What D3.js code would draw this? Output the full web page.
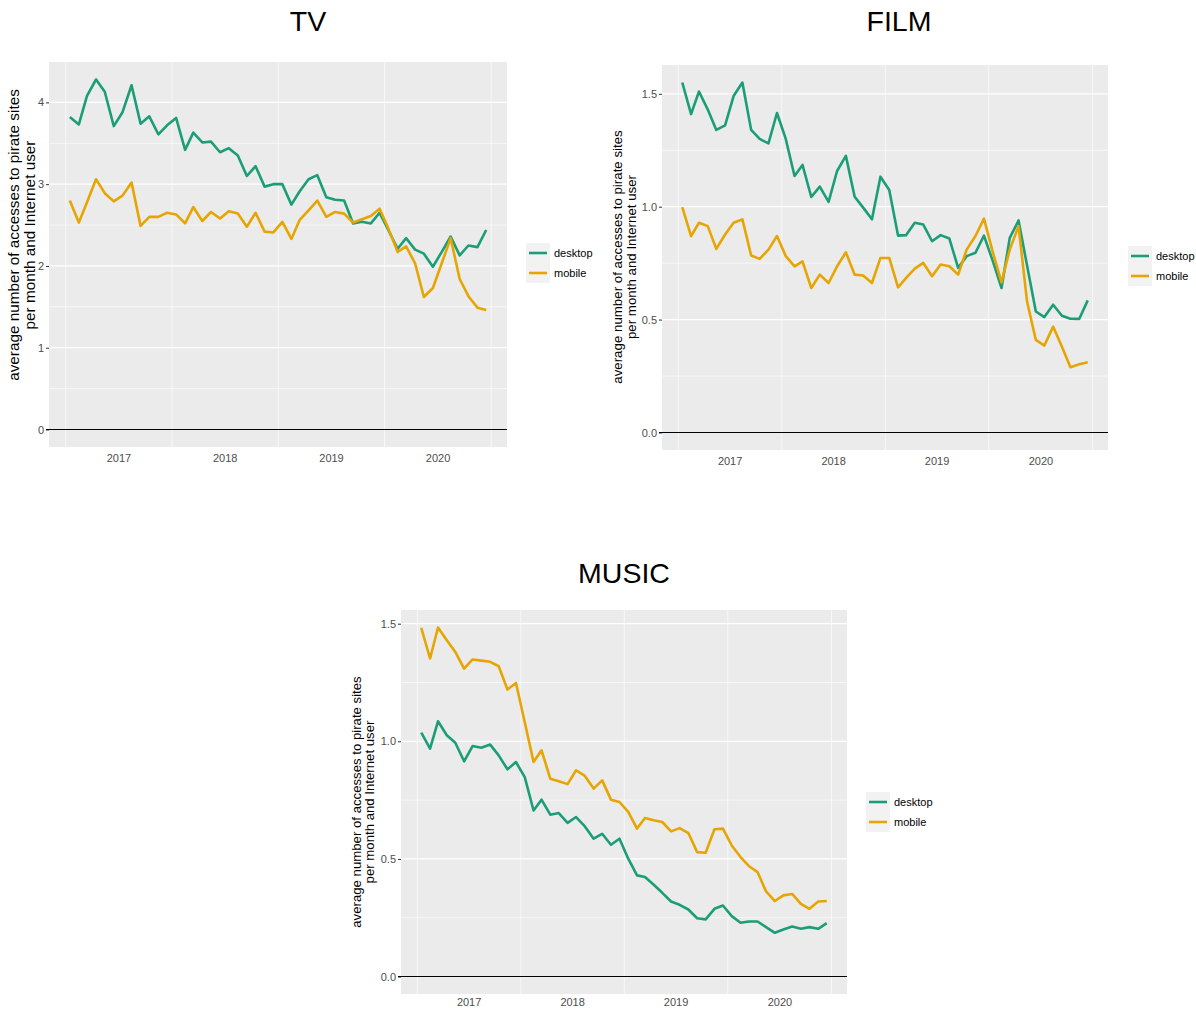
<!DOCTYPE html>
<html>
<head>
<meta charset="utf-8">
<script src="https://cdn.jsdelivr.net/npm/d3@7"></script>
<style>
  body { margin: 0; background: #fff; }
  svg { display: block; font-family: "Liberation Sans", Arial, sans-serif; }
</style>
</head>
<body>
<svg id="chart" width="1196" height="1011"></svg>
<script>
// Monthly observations, January 2017 to December 2020
const months = d3.range(48).map(i => new Date(2017, i, 15));
const yearLabels = ["2017", "2018", "2019", "2020"];
const seriesNames = ["desktop", "mobile"];

const tvDesktop = [3.82, 3.73, 4.08, 4.28, 4.13, 3.71, 3.88, 4.21, 3.74, 3.83, 3.61, 3.72,
  3.81, 3.42, 3.63, 3.51, 3.52, 3.39, 3.44, 3.35, 3.10, 3.22, 2.97, 3.00,
  3.00, 2.75, 2.91, 3.06, 3.11, 2.84, 2.81, 2.80, 2.52, 2.54, 2.52, 2.65,
  2.43, 2.21, 2.34, 2.20, 2.15, 1.99, 2.17, 2.36, 2.13, 2.25, 2.23, 2.44];
const tvMobile = [2.80, 2.53, 2.78, 3.06, 2.89, 2.79, 2.86, 3.02, 2.49, 2.60, 2.60, 2.65,
  2.63, 2.52, 2.72, 2.55, 2.66, 2.58, 2.67, 2.64, 2.48, 2.65, 2.42, 2.41,
  2.54, 2.33, 2.56, 2.68, 2.80, 2.60, 2.66, 2.64, 2.53, 2.57, 2.61, 2.70,
  2.45, 2.17, 2.24, 2.03, 1.62, 1.73, 2.03, 2.34, 1.84, 1.63, 1.49, 1.46];

const filmDesktop = [1.55, 1.41, 1.51, 1.43, 1.34, 1.36, 1.49, 1.55, 1.34, 1.30, 1.28, 1.415,
  1.30, 1.136, 1.185, 1.043, 1.089, 1.021, 1.158, 1.225, 1.044, 0.996, 0.944, 1.133,
  1.074, 0.872, 0.874, 0.929, 0.921, 0.847, 0.874, 0.859, 0.729, 0.781, 0.796, 0.872,
  0.76, 0.640, 0.862, 0.939, 0.74, 0.536, 0.511, 0.566, 0.517, 0.504, 0.503, 0.585];
const filmMobile = [0.998, 0.870, 0.929, 0.914, 0.813, 0.877, 0.929, 0.944, 0.784, 0.769, 0.810, 0.870,
  0.781, 0.736, 0.758, 0.640, 0.699, 0.662, 0.736, 0.798, 0.699, 0.695, 0.662, 0.773,
  0.773, 0.643, 0.684, 0.726, 0.751, 0.692, 0.744, 0.736, 0.699, 0.810, 0.870, 0.947,
  0.80, 0.665, 0.810, 0.914, 0.58, 0.41, 0.385, 0.469, 0.38, 0.289, 0.302, 0.311];

const musicDesktop = [1.037, 0.969, 1.085, 1.026, 0.994, 0.915, 0.980, 0.973, 0.986, 0.940, 0.881, 0.912,
  0.848, 0.706, 0.752, 0.688, 0.695, 0.653, 0.678, 0.638, 0.586, 0.607, 0.560, 0.586,
  0.501, 0.430, 0.423, 0.390, 0.356, 0.319, 0.305, 0.285, 0.248, 0.243, 0.288, 0.302,
  0.257, 0.229, 0.234, 0.234, 0.210, 0.186, 0.200, 0.213, 0.203, 0.210, 0.203, 0.227];
const musicMobile = [1.482, 1.352, 1.484, 1.430, 1.380, 1.309, 1.348, 1.343, 1.338, 1.319, 1.220, 1.248,
  1.081, 0.912, 0.962, 0.841, 0.830, 0.818, 0.877, 0.853, 0.799, 0.834, 0.752, 0.742,
  0.700, 0.629, 0.674, 0.664, 0.657, 0.617, 0.631, 0.610, 0.529, 0.526, 0.626, 0.629,
  0.557, 0.508, 0.470, 0.444, 0.362, 0.321, 0.345, 0.351, 0.309, 0.288, 0.319, 0.321];

const tvTicks = [0, 1, 2, 3, 4];
const tvMinor = [0.5, 1.5, 2.5, 3.5];
const shareTicks = [0, 0.5, 1.0, 1.5];
const shareMinor = [0.25, 0.75, 1.25];

const yTitle = ["average number of accesses to pirate sites", "per month and Internet user"];
const colors = { desktop: "#1b9e77", mobile: "#e6a502" };

const svg = d3.select("#chart");

// Panel layout
const panels = [
  { title: "TV", desktop: tvDesktop, mobile: tvMobile, ticks: tvTicks, minor: tvMinor, fmt: d3.format("d"),
    left: 49, right: 507, top: 62, bottom: 447, titleX: 308, titleY: 31, xPad: 7,
    yTitleX: 13.5, yTitleY: 235, yTitleSize: 15.3, legendX: 526, legendY: 243 },
  { title: "FILM", desktop: filmDesktop, mobile: filmMobile, ticks: shareTicks, minor: shareMinor, fmt: d3.format(".1f"),
    left: 662, right: 1108, top: 65, bottom: 450, titleX: 899, titleY: 31, xPad: 7,
    yTitleX: 617, yTitleY: 257, yTitleSize: 13.3, legendX: 1128, legendY: 246 },
  { title: "MUSIC", desktop: musicDesktop, mobile: musicMobile, ticks: shareTicks, minor: shareMinor, fmt: d3.format(".1f"),
    left: 401, right: 847, top: 610, bottom: 994, titleX: 624, titleY: 583, xPad: 4,
    yTitleX: 356, yTitleY: 802, yTitleSize: 13.2, legendX: 866, legendY: 792 }
];

// ggplot-style 5% expansion of a continuous range
function expand([lo, hi]) {
  const pad = (hi - lo) * 0.05;
  return [lo - pad, hi + pad];
}

panels.forEach(p => {
  const g = svg.append("g");
  const t0 = months[0].getTime(), t1 = months[months.length - 1].getTime();
  const [e0, e1] = expand([t0, t1]);
  const x = d3.scaleTime().domain([new Date(e0), new Date(e1)]).range([p.left, p.right]);
  const yMax = d3.max([...p.desktop, ...p.mobile]);
  const y = d3.scaleLinear().domain(expand([0, yMax])).range([p.bottom, p.top]);

  // panel background
  g.append("rect").attr("x", p.left).attr("y", p.top)
    .attr("width", p.right - p.left).attr("height", p.bottom - p.top).attr("fill", "#ebebeb");

  // horizontal grid
  g.selectAll(".hmin").data(p.minor).join("line")
    .attr("x1", p.left).attr("x2", p.right).attr("y1", d => y(d)).attr("y2", d => y(d))
    .attr("stroke", "#fff").attr("stroke-width", 0.6);
  g.selectAll(".hmaj").data(p.ticks).join("line")
    .attr("x1", p.left).attr("x2", p.right).attr("y1", d => y(d)).attr("y2", d => y(d))
    .attr("stroke", "#fff").attr("stroke-width", 1.2);

  // vertical grid at year boundaries
  const yearBounds = d3.range(2017, 2022).map(yr => new Date(yr, 0, 1));
  g.selectAll(".vgrid").data(yearBounds).join("line")
    .attr("x1", d => x(d)).attr("x2", d => x(d)).attr("y1", p.top).attr("y2", p.bottom)
    .attr("stroke", "#fff").attr("stroke-width", 0.8).attr("opacity", 0.8);

  // y axis
  const yAxis = d3.axisLeft(y).tickValues(p.ticks).tickFormat(p.fmt).tickSize(3).tickPadding(2);
  const ya = g.append("g").attr("transform", `translate(${p.left},0)`).call(yAxis);
  ya.select(".domain").remove();
  ya.selectAll("line").attr("stroke", "#333").attr("stroke-width", 1);
  ya.selectAll("text").attr("fill", "#4d4d4d").style("font-size", "11px")
    .style("font-family", "'Liberation Sans', Arial, sans-serif");

  // x axis labels at mid-year
  const xAxis = d3.axisBottom(x).tickValues(yearLabels.map(s => new Date(+s, 6, 1)))
    .tickFormat(d3.timeFormat("%Y")).tickSize(0).tickPadding(p.xPad);
  const xa = g.append("g").attr("transform", `translate(0,${p.bottom})`).call(xAxis);
  xa.select(".domain").remove();
  xa.selectAll("text").attr("fill", "#4d4d4d").style("font-size", "11px")
    .style("font-family", "'Liberation Sans', Arial, sans-serif");

  // zero reference line
  g.append("line").attr("x1", p.left - 3).attr("x2", p.right)
    .attr("y1", y(0)).attr("y2", y(0)).attr("stroke", "#000").attr("stroke-width", 1.1);

  // series lines
  const line = d3.line().x((d, i) => x(months[i])).y(d => y(d));
  seriesNames.forEach(name => {
    g.append("path").datum(p[name]).attr("d", line)
      .attr("fill", "none").attr("stroke", colors[name]).attr("stroke-width", 2.6)
      .attr("stroke-linejoin", "round");
  });

  // panel title
  g.append("text").attr("x", p.titleX).attr("y", p.titleY).attr("text-anchor", "middle")
    .style("font-size", "28.5px").attr("fill", "#000").text(p.title);

  // y axis title
  yTitle.forEach((txt, k) => {
    g.append("text")
      .attr("transform", `translate(${p.yTitleX + k * p.yTitleSize * 1.05},${p.yTitleY}) rotate(-90)`)
      .attr("text-anchor", "middle").attr("dy", "0.35em")
      .style("font-size", p.yTitleSize + "px").attr("fill", "#000").text(txt);
  });

  // legend
  const lg = g.append("g").attr("transform", `translate(${p.legendX},${p.legendY})`);
  lg.append("rect").attr("width", 24).attr("height", 40).attr("fill", "#f2f2f2");
  seriesNames.forEach((name, k) => {
    lg.append("line").attr("x1", 3).attr("x2", 21).attr("y1", 10 + k * 20).attr("y2", 10 + k * 20)
      .attr("stroke", colors[name]).attr("stroke-width", 2.6);
    lg.append("text").attr("x", 28).attr("y", 10 + k * 20).attr("dy", "0.35em")
      .style("font-size", "11px").attr("fill", "#000").text(name);
  });
});
</script>
</body>
</html>
